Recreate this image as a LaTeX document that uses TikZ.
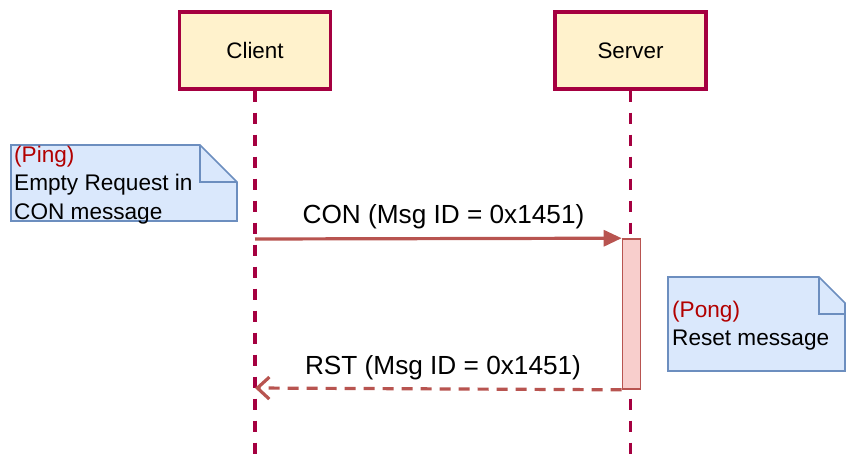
\documentclass[tikz,border=0pt]{standalone}
\usepackage{fontspec}
\setmainfont{Liberation Sans}
\usetikzlibrary{arrows.meta}
\definecolor{lifered}{HTML}{A50040}
\definecolor{headfill}{HTML}{FFF2CC}
\definecolor{msgred}{HTML}{B85450}
\definecolor{actfill}{HTML}{F8CECC}
\definecolor{notefill}{HTML}{DAE8FC}
\definecolor{notedraw}{HTML}{6C8EBF}
\definecolor{tagred}{HTML}{B20000}
\begin{document}
\begin{tikzpicture}[x=1pt,y=-1pt,
  head/.style={draw=lifered,fill=headfill,line width=3.2pt,minimum width=151pt,minimum height=77pt,inner sep=0pt,font=\fontsize{22.4}{26}\selectfont},
  lifeline/.style={draw=lifered,line width=3.2pt,dash pattern=on 11pt off 11pt},
  msg/.style={draw=msgred,line width=3.2pt},
  notebox/.style={draw=notedraw,fill=notefill,line width=1.6pt,line join=miter},
  notetext/.style={anchor=north west,inner sep=0pt,align=left,font=\fontsize{22.6}{28.5}\selectfont},
  lbl/.style={font=\fontsize{26.2}{30}\selectfont,inner sep=0pt}]
\useasboundingbox (0,0) rectangle (846,458);
% headers
\node[head] (client) at (255,50.5) {Client};
\node[head] (server) at (630.5,50.5) {Server};
\coordinate (cend) at (255,458);
\coordinate (send) at (630.5,458);
\draw[lifeline] (client.south) -- (cend);
\draw[lifeline] (server.south) -- (send);
% activation
\node[draw=msgred,fill=actfill,line width=1.6pt,minimum width=18pt,minimum height=150pt,inner sep=0pt] (act) at (631.5,314) {};
% messages
\coordinate (conS) at (255,239);
\coordinate (rstE) at (255,388);
\draw[msg,-{Triangle[length=18pt,width=16pt]}] (conS) -- (act.north west);
\draw[msg,dash pattern=on 11pt off 8pt,-{Straight Barb[length=12pt,width=22pt,line width=3.2pt]}] (act.south west) -- (rstE);
\node[lbl] (conlbl) at (443.5,217) {CON (Msg ID = 0x1451)};
\node[lbl] (rstlbl) at (443,368) {RST (Msg ID = 0x1451)};
% note 1
\draw[notebox] (11,145) -- (200,145) -- (237,182) -- (237,221) -- (11,221) -- cycle;
\draw[notebox,fill=none] (200,145) -- (200,182) -- (237,182);
\node[notetext] (n1) at (14,145.5) {\textcolor{tagred}{(Ping)}\\Empty Request in\\CON message};
% note 2
\draw[notebox] (668,277) -- (819,277) -- (845,303) -- (845,371) -- (668,371) -- cycle;
\draw[notebox,fill=none] (819,277) -- (819,314) -- (856,314);
\node[notetext] (n2) at (672,300.5) {\textcolor{tagred}{(Pong)}\\Reset message};
\end{tikzpicture}
\end{document}
